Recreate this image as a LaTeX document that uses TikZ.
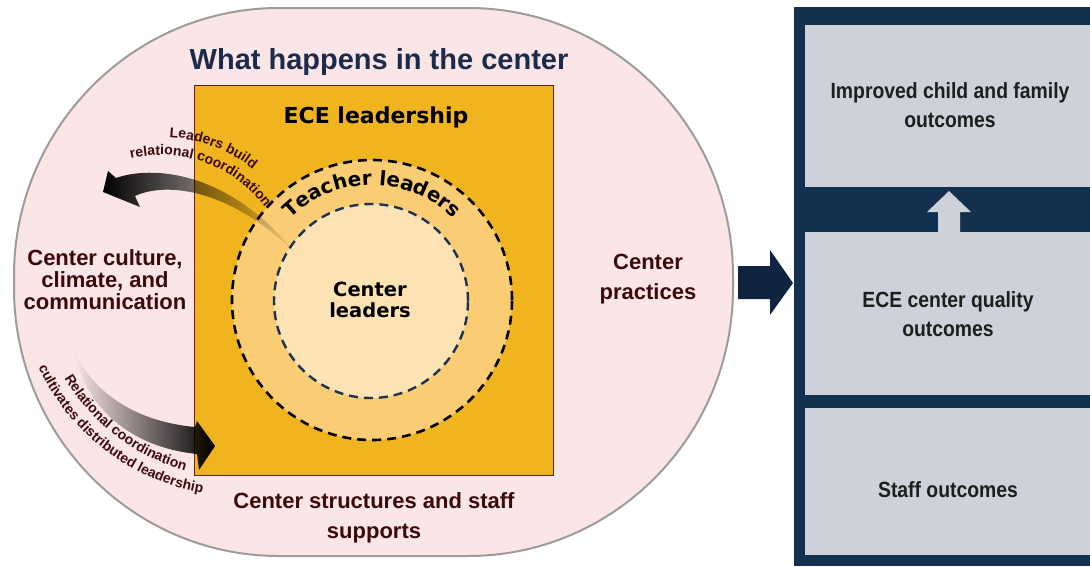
\documentclass[tikz,border=0pt]{standalone}
\usepackage{fontspec}
\setmainfont{Liberation Sans}
\newfontfamily\heavyfont{DejaVu Sans}
\newfontfamily\narrowfont[FakeStretch=0.88]{Liberation Sans}
\usetikzlibrary{decorations.text,fadings}

\definecolor{pinkbg}{RGB}{250,230,230}
\definecolor{pinkedge}{RGB}{160,155,155}
\definecolor{gold}{RGB}{240,181,30}
\definecolor{goldedge}{RGB}{110,30,20}
\definecolor{ringc}{RGB}{250,204,115}
\definecolor{corec}{RGB}{253,226,180}
\definecolor{slate}{RGB}{30,52,78}
\definecolor{navy}{RGB}{20,48,79}
\definecolor{navyarrow}{RGB}{16,36,64}
\definecolor{boxgray}{RGB}{205,210,218}
\definecolor{maroonc}{RGB}{60,10,10}
\definecolor{titlenavy}{RGB}{28,43,76}
\definecolor{boxtext}{RGB}{30,30,30}

\newcommand\lblfont{\fontsize{14}{16}\selectfont\bfseries}

\tikzfading[name=fadeA, left color=transparent!0, middle color=transparent!15, right color=transparent!100]
\tikzfading[name=fadeB, left color=transparent!100, middle color=transparent!10, right color=transparent!0]

\tikzset{
  every node/.style={inner sep=0pt, outer sep=0pt},
  maroonlbl/.style={font=\fontsize{22}{30}\selectfont\bfseries, text=maroonc, align=center},
  outlbl/.style={font=\narrowfont\bfseries\fontsize{22}{29}\selectfont, text=boxtext, align=center},
  outbox/.style={fill=boxgray, draw=none},
  curvetext/.style={decorate, decoration={text along path, text align=center, text color=maroonc}}
}

\begin{document}
\begin{tikzpicture}[x=1pt, y=1pt]
\useasboundingbox (0,0) rectangle (1090,-566);
\fill[white] (0,0) rectangle (1090,-566);

% pink outer shape
\path[fill=pinkbg, draw=pinkedge, line width=2pt]
  (14,-276) .. controls (14,-128) and (133,-8) .. (279,-8)
  -- (468,-8) .. controls (614,-8) and (733,-128) .. (733,-276)
  -- (733,-288) .. controls (733,-436) and (614,-556) .. (468,-556)
  -- (279,-556) .. controls (133,-556) and (14,-436) .. (14,-288) -- cycle;

% yellow leadership box
\fill[gold, draw=goldedge, line width=1pt] (194,-85) rectangle (553,-475);

% rings
\fill[ringc] (372,-300) circle[radius=140];
\draw[black, line width=2.6pt, dash pattern=on 9pt off 6pt] (372,-300) circle[radius=140];
\fill[corec] (371,-301) circle[radius=97];
\draw[slate, line width=2.4pt, dash pattern=on 9pt off 6pt] (371,-301) circle[radius=97];

% curved arrow A (to the left)
\fill[black, path fading=fadeA]
  (103,-192) -- (108,-171) -- (116,-178)
  .. controls (150,-166) and (228,-168) .. (298,-256)
  .. controls (230,-187) and (165,-182) .. (135,-196)
  -- (140,-207) -- cycle;

% curved arrow B (to the right)
\fill[black, path fading=fadeB]
  (74,-350) .. controls (94,-396) and (140,-422) .. (195,-427)
  -- (197,-421) -- (215,-446) -- (199,-470) -- (197,-454)
  .. controls (128,-447) and (84,-405) .. (74,-350) -- cycle;

% texts
\node[font=\fontsize{29}{34}\selectfont\bfseries, text=titlenavy, anchor=base] (title) at (379,-69) {What happens in the center};
\node[font=\heavyfont\bfseries\fontsize{22}{26}\selectfont, anchor=base] (ece) at (376,-123) {ECE leadership};
\node[font=\heavyfont\bfseries\fontsize{19.5}{20.5}\selectfont, align=center] (cleaders) at (370,-300) {Center\\leaders};
\node[maroonlbl, font=\fontsize{22}{22}\selectfont\bfseries] (culture) at (105,-280) {Center culture,\\climate, and\\communication};
\node[maroonlbl] (practices) at (648,-279) {Center\\practices};
\node[maroonlbl] (structures) at (374,-518) {Center structures and staff\\supports};

\path[decorate, decoration={text along path, text align=center, text={|\heavyfont\bfseries\fontsize{20}{24}\selectfont|Teacher leaders}}]
  (372,-300) ++(140:115) arc[start angle=140, end angle=40, radius=115];

\path[curvetext, decoration={text={|\lblfont|Leaders build}}]
  (161,-284) ++(109:147) arc[start angle=109, end angle=29, radius=147];
\path[curvetext, decoration={text={|\lblfont|relational coordination}}]
  (161,-284) ++(115:129) arc[start angle=115, end angle=25, radius=129];

\path[curvetext, decoration={text={|\lblfont|Relational coordination}}]
  (240,-274) ++(190:204) arc[start angle=190, end angle=275, radius=204];
\path[curvetext, decoration={text={|\lblfont|cultivates distributed leadership}}]
  (240,-274) ++(190:222) arc[start angle=190, end angle=275, radius=222];

% big arrow to outcomes
\fill[navyarrow] (738,-266) -- (770,-266) -- (770,-250) -- (793,-283) -- (770,-315) -- (770,-299) -- (738,-299) -- cycle;

% outcomes panel
\fill[navy] (794,-7) rectangle (1090,-566);
\fill[outbox] (805,-25) rectangle (1090,-187);
\fill[outbox] (805,-232) rectangle (1090,-395);
\fill[outbox] (805,-408) rectangle (1090,-555);
\fill[boxgray] (938,-233) -- (938,-212) -- (927,-212) -- (949,-191) -- (971,-212) -- (960,-212) -- (960,-233) -- cycle;

\node[outlbl] (out1) at (950,-105.5) {Improved child and family\\outcomes};
\node[outlbl] (out2) at (948,-314) {ECE center quality\\outcomes};
\node[outlbl, anchor=base] (out3) at (948,-497) {Staff outcomes};
\end{tikzpicture}
\end{document}
